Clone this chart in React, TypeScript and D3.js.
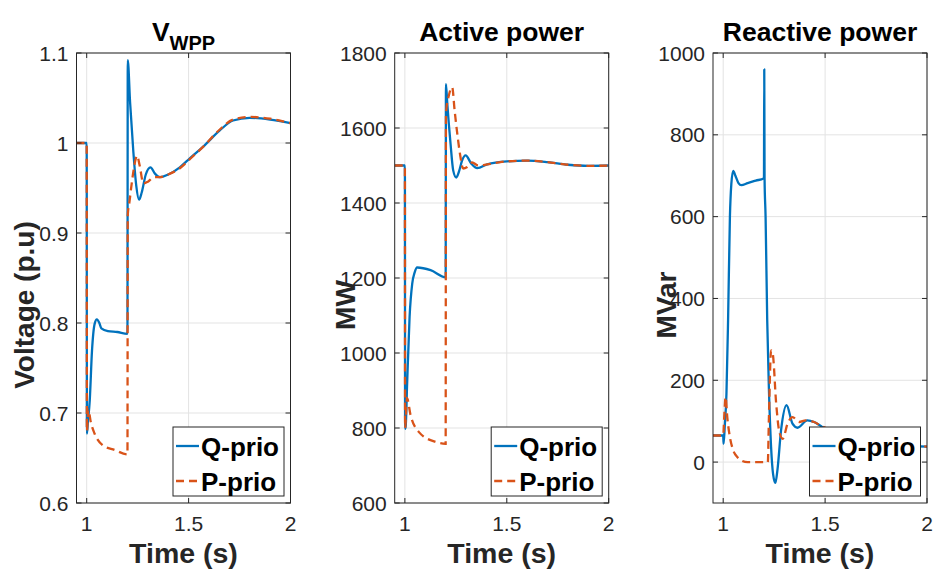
import React from "react";
import * as d3 from "d3";

// ---------- data ----------
const timeDomain = [0.95, 2];
const xTicks = [1, 1.5, 2];
const xTickLabels = ["1", "1.5", "2"];

const voltTicks = [0.6, 0.7, 0.8, 0.9, 1, 1.1];
const voltTickLabels = ["0.6", "0.7", "0.8", "0.9", "1", "1.1"];
const activeTicks = [600, 800, 1000, 1200, 1400, 1600, 1800];
const activeTickLabels = ["600", "800", "1000", "1200", "1400", "1600", "1800"];
const reactiveTicks = [0, 200, 400, 600, 800, 1000];
const reactiveTickLabels = ["0", "200", "400", "600", "800", "1000"];

const seriesNames = ["Q-prio", "P-prio"];

// Voltage, Q-prio
const tVoltQ = [0.95, 1.0, 1.001, 1.006, 1.015, 1.026, 1.039, 1.05, 1.062, 1.072, 1.104, 1.15, 1.2, 1.2015, 1.213, 1.229, 1.243, 1.257, 1.27, 1.29, 1.313, 1.335, 1.36, 1.4, 1.457, 1.506, 1.572, 1.653, 1.718, 1.8, 1.9, 2.0];
const vVoltQ = [1.0, 1.0, 0.677, 0.69, 0.714, 0.769, 0.799, 0.804, 0.8, 0.794, 0.791, 0.79, 0.788, 1.092, 1.045, 0.99, 0.953, 0.937, 0.945, 0.965, 0.973, 0.966, 0.962, 0.965, 0.973, 0.983, 0.996, 1.014, 1.025, 1.028, 1.026, 1.022];
// Voltage, P-prio
const tVoltP = [0.95, 1.0, 1.001, 1.008, 1.02, 1.039, 1.08, 1.137, 1.2, 1.2015, 1.21, 1.225, 1.238, 1.247, 1.26, 1.278, 1.3, 1.33, 1.36, 1.4, 1.457, 1.506, 1.572, 1.653, 1.718, 1.8, 1.9, 2.0];
const vVoltP = [1.0, 1.0, 0.68, 0.704, 0.69, 0.677, 0.664, 0.659, 0.654, 0.92, 0.935, 0.962, 0.98, 0.986, 0.975, 0.955, 0.957, 0.962, 0.962, 0.965, 0.972, 0.982, 0.996, 1.015, 1.026, 1.029, 1.027, 1.022];

// Active power, Q-prio
const tActQ = [0.95, 1.0, 1.001, 1.004, 1.011, 1.023, 1.036, 1.048, 1.06, 1.126, 1.2, 1.2015, 1.208, 1.224, 1.237, 1.252, 1.266, 1.281, 1.298, 1.326, 1.355, 1.404, 1.5, 1.6, 1.7, 1.8, 1.9, 2.0];
const vActQ = [1500, 1500, 798, 805, 918, 1096, 1185, 1215, 1228, 1221, 1202, 1717, 1665, 1558, 1487, 1468, 1485, 1514, 1527, 1505, 1493, 1503, 1511, 1513, 1509, 1502, 1499, 1500];
// Active power, P-prio
const tActP = [0.95, 1.0, 1.001, 1.01, 1.028, 1.069, 1.15, 1.2, 1.2015, 1.215, 1.232, 1.244, 1.257, 1.27, 1.286, 1.306, 1.33, 1.36, 1.404, 1.5, 1.6, 1.7, 1.8, 1.9, 2.0];
const vActP = [1500, 1500, 800, 880, 834, 789, 763, 758, 1640, 1685, 1709, 1647, 1585, 1532, 1492, 1496, 1508, 1500, 1503, 1511, 1513, 1509, 1502, 1499, 1500];

// Reactive power, Q-prio
const tReaQ = [0.95, 1.0, 1.002, 1.008, 1.016, 1.024, 1.033, 1.04, 1.049, 1.06, 1.075, 1.089, 1.12, 1.16, 1.2, 1.2015, 1.203, 1.208, 1.216, 1.224, 1.235, 1.245, 1.256, 1.266, 1.284, 1.311, 1.34, 1.365, 1.413, 1.446, 1.486, 1.55, 1.65, 1.8, 1.9, 2.0];
const vReaQ = [65, 65, 45, 90, 167, 347, 600, 680, 712, 700, 682, 677, 682, 688, 694, 960, 694, 600, 347, 184, 37, -30, -51, -20, 78, 139, 94, 84, 102, 98, 86, 72, 55, 43, 40, 38];
// Reactive power, P-prio
const tReaP = [0.95, 1.0, 1.006, 1.012, 1.02, 1.033, 1.049, 1.07, 1.089, 1.12, 1.219, 1.224, 1.235, 1.243, 1.26, 1.274, 1.292, 1.316, 1.34, 1.373, 1.405, 1.446, 1.486, 1.55, 1.65, 1.8, 1.9, 2.0];
const vReaP = [65, 65, 120, 159, 110, 61, 29, 12, 4, 0, 0, 102, 273, 265, 143, 78, 57, 94, 110, 98, 102, 98, 87, 73, 56, 43, 40, 38];

// ---------- styling ----------
const W = 933;
const H = 572;
const TOP = 53;
const BOTTOM = 503;
const PW = 214;
const COLORS = ["#0072BD", "#D95319"];
const AX = "#262626";
const FONT = "'Liberation Sans', Arial, Helvetica, sans-serif";
const LW = 2.3;

type PanelProps = {
  left: number;
  yDomain: [number, number];
  yTicks: number[];
  yTickLabels: string[];
  title: React.ReactNode;
  ylabel: string;
  ylabelX: number;
  tQ: number[];
  vQ: number[];
  tP: number[];
  vP: number[];
};

function Panel(p: PanelProps) {
  const x = d3.scaleLinear().domain(timeDomain).range([p.left, p.left + PW]);
  const y = d3.scaleLinear().domain(p.yDomain).range([BOTTOM, TOP]);
  const line = d3
    .line<[number, number]>()
    .x((d) => x(d[0]))
    .y((d) => y(d[1]))
    .curve(d3.curveMonotoneX);
  const qPts = p.tQ.map((t, i) => [t, p.vQ[i]] as [number, number]);
  const pPts = p.tP.map((t, i) => [t, p.vP[i]] as [number, number]);
  const right = p.left + PW;
  const clipId = "clip" + Math.round(p.left);
  const lgW = 111;
  const lgH = 69;
  const lgX = right - 6.5 - lgW;
  const lgY = BOTTOM - 7 - lgH;
  const tickLen = 5;
  return (
    <g>
      <defs>
        <clipPath id={clipId}>
          <rect x={p.left} y={TOP} width={PW} height={BOTTOM - TOP} />
        </clipPath>
      </defs>
      <rect x={p.left} y={TOP} width={PW} height={BOTTOM - TOP} fill="#fff" />
      {/* grid */}
      {xTicks.map((t) => (
        <line key={"gx" + t} x1={x(t)} x2={x(t)} y1={TOP} y2={BOTTOM} stroke="#e3e3e3" strokeWidth={1} />
      ))}
      {p.yTicks.map((t) => (
        <line key={"gy" + t} x1={p.left} x2={right} y1={y(t)} y2={y(t)} stroke="#e3e3e3" strokeWidth={1} />
      ))}
      {/* lines */}
      <g clipPath={`url(#${clipId})`}>
        <path d={line(qPts) || ""} fill="none" stroke={COLORS[0]} strokeWidth={LW} strokeLinejoin="round" />
        <path d={line(pPts) || ""} fill="none" stroke={COLORS[1]} strokeWidth={LW} strokeDasharray="8,5" />
      </g>
      {/* box */}
      <rect x={p.left} y={TOP} width={PW} height={BOTTOM - TOP} fill="none" stroke={AX} strokeWidth={1} />
      {/* ticks */}
      {xTicks.map((t) => (
        <g key={"tx" + t}>
          <line x1={x(t)} x2={x(t)} y1={BOTTOM} y2={BOTTOM - tickLen} stroke={AX} />
          <line x1={x(t)} x2={x(t)} y1={TOP} y2={TOP + tickLen} stroke={AX} />
        </g>
      ))}
      {p.yTicks.map((t) => (
        <g key={"ty" + t}>
          <line x1={p.left} x2={p.left + tickLen} y1={y(t)} y2={y(t)} stroke={AX} />
          <line x1={right} x2={right - tickLen} y1={y(t)} y2={y(t)} stroke={AX} />
        </g>
      ))}
      {/* tick labels */}
      {xTicks.map((t, i) => (
        <text key={"lx" + t} x={x(t)} y={531} textAnchor="middle" fontSize={21} fill={AX} fontFamily={FONT}>
          {xTickLabels[i]}
        </text>
      ))}
      {p.yTicks.map((t, i) => (
        <text key={"ly" + t} x={p.left - 8} y={y(t) + 7.5} textAnchor="end" fontSize={21} fill={AX} fontFamily={FONT}>
          {p.yTickLabels[i]}
        </text>
      ))}
      {/* axis labels */}
      <text x={p.left + PW / 2} y={563} textAnchor="middle" fontSize={28.5} fontWeight="bold" fill={AX} fontFamily={FONT}>
        Time (s)
      </text>
      <text
        transform={`translate(${p.ylabelX},305) rotate(-90)`}
        textAnchor="middle"
        fontSize={28}
        fontWeight="bold"
        fill={AX}
        fontFamily={FONT}
      >
        {p.ylabel}
      </text>
      {/* title */}
      <text x={p.left + PW / 2} y={41} textAnchor="middle" fontSize={26.5} fontWeight="bold" fill="#000" fontFamily={FONT}>
        {p.title}
      </text>
      {/* legend */}
      <rect x={lgX} y={lgY} width={lgW} height={lgH} fill="#fff" stroke={AX} strokeWidth={1} />
      {seriesNames.map((name, i) => {
        const cy = lgY + 19 + i * 35;
        return (
          <g key={name}>
            <line
              x1={lgX + 3}
              x2={lgX + 26}
              y1={cy}
              y2={cy}
              stroke={COLORS[i]}
              strokeWidth={LW}
              strokeDasharray={i === 1 ? "8,5" : undefined}
            />
            <text x={lgX + 28} y={cy + 9.5} fontSize={26} fontWeight="bold" fill="#000" fontFamily={FONT}>
              {name}
            </text>
          </g>
        );
      })}
    </g>
  );
}

export default function App() {
  return (
    <svg
      width={W}
      height={H}
      viewBox={`0 0 ${W} ${H}`}
      style={{ position: "absolute", left: 0, top: 0, background: "#fff" }}
    >
      <rect x={0} y={0} width={W} height={H} fill="#fff" />
      <Panel
        left={76.5}
        yDomain={[0.6, 1.1]}
        yTicks={voltTicks}
        yTickLabels={voltTickLabels}
        title={
          <>
            V<tspan fontSize={20} dy={9}>WPP</tspan>
          </>
        }
        ylabel="Voltage (p.u)"
        ylabelX={34}
        tQ={tVoltQ}
        vQ={vVoltQ}
        tP={tVoltP}
        vP={vVoltP}
      />
      <Panel
        left={394.7}
        yDomain={[600, 1800]}
        yTicks={activeTicks}
        yTickLabels={activeTickLabels}
        title="Active power"
        ylabel="MW"
        ylabelX={355}
        tQ={tActQ}
        vQ={vActQ}
        tP={tActP}
        vP={vActP}
      />
      <Panel
        left={713}
        yDomain={[-100, 1000]}
        yTicks={reactiveTicks}
        yTickLabels={reactiveTickLabels}
        title="Reactive power"
        ylabel="MVar"
        ylabelX={676}
        tQ={tReaQ}
        vQ={vReaQ}
        tP={tReaP}
        vP={vReaP}
      />
    </svg>
  );
}
